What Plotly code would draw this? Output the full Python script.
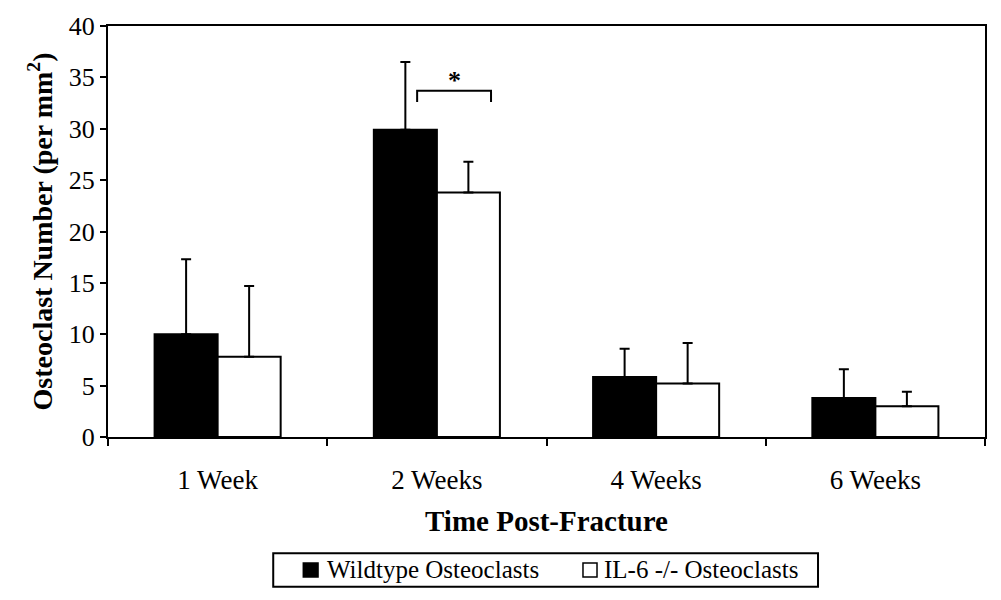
import plotly.graph_objects as go

categories = ["1 Week", "2 Weeks", "4 Weeks", "6 Weeks"]
wildtype = [10.0, 29.9, 5.85, 3.8]
wildtype_err = [7.3, 6.6, 2.75, 2.8]
il6 = [7.8, 23.8, 5.2, 3.0]
il6_err = [6.9, 3.0, 3.95, 1.4]
series_names = ["Wildtype Osteoclasts", "IL-6 -/- Osteoclasts"]

# significance bracket (category index coordinates) and its level
sig_x0, sig_x1 = 0.91, 1.247
sig_y_top, sig_y_bot = 33.7, 32.6
sig_label = "<b>*</b>"

FONT = "Liberation Serif, Times New Roman, serif"

fig = go.Figure()
fig.add_trace(go.Bar(
    x=categories, y=wildtype, name=series_names[0],
    marker=dict(color="black", line=dict(color="black", width=2)),
    error_y=dict(type="data", array=wildtype_err, arrayminus=[0]*4, symmetric=False,
                 color="black", thickness=2, width=5),
))
fig.add_trace(go.Bar(
    x=categories, y=il6, name=series_names[1],
    marker=dict(color="white", line=dict(color="black", width=2)),
    error_y=dict(type="data", array=il6_err, arrayminus=[0]*4, symmetric=False,
                 color="black", thickness=2, width=5),
))

fig.add_shape(type="path", xref="x", yref="y",
              path=f"M {sig_x0},{sig_y_bot} L {sig_x0},{sig_y_top} L {sig_x1},{sig_y_top} L {sig_x1},{sig_y_bot}",
              line=dict(color="black", width=2))
fig.add_annotation(x=(sig_x0 + sig_x1) / 2, y=sig_y_top, text=sig_label, showarrow=False,
                   yanchor="bottom", yshift=-6, font=dict(family=FONT, size=26, color="black"))

# boxed legend below the axis title (paper coordinates)
fig.add_shape(type="rect", xref="paper", yref="paper", x0=0.1884, x1=0.8096, y0=-0.3645, y1=-0.283,
              line=dict(color="black", width=2), fillcolor="white")
legend_items = [
    (0.2227, 0.2395, "black", 0.2474),
    (0.5416, 0.5576, "white", 0.5633),
]
for (sx0, sx1, fill, tx), name in zip(legend_items, series_names):
    fig.add_shape(type="rect", xref="paper", yref="paper", x0=sx0, x1=sx1, y0=-0.3406, y1=-0.3066,
                  line=dict(color="black", width=1.5), fillcolor=fill)
    fig.add_annotation(xref="paper", yref="paper", x=tx, y=-0.3236, text=name, showarrow=False,
                       xanchor="left", yanchor="middle", font=dict(family=FONT, size=25, color="black"))

fig.update_layout(
    width=1001, height=600,
    margin=dict(l=100, r=24, t=18, b=171),
    paper_bgcolor="white", plot_bgcolor="white",
    barmode="group", bargap=0.425, bargroupgap=0,
    font=dict(family=FONT, size=26, color="black"),
    showlegend=False,
    xaxis=dict(
        type="category", tickson="boundaries", ticks="outside", ticklen=7, tickwidth=2,
        tickcolor="black", showline=True, linecolor="black", linewidth=2, mirror=True,
        ticklabelstandoff=18, automargin=False, tickfont=dict(size=27),
        title=dict(text="<b>Time Post-Fracture</b>", font=dict(size=29), standoff=16),
        showgrid=False,
    ),
    yaxis=dict(
        range=[0, 40], dtick=5, ticks="outside", ticklen=6, tickwidth=2, tickcolor="black",
        showline=True, linecolor="black", linewidth=2, mirror=True, showgrid=False,
        zeroline=False, tickfont=dict(size=26), automargin=False,
        title=dict(text="<b>Osteoclast Number (per mm<sup>2</sup>)</b>", font=dict(size=28), standoff=8),
    ),
)

fig.write_html("out.html")
